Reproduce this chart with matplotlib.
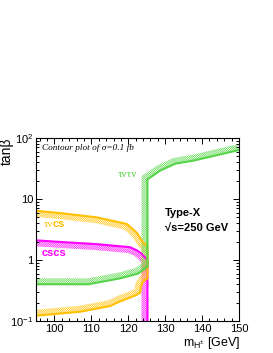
import matplotlib
matplotlib.use("Agg")
import matplotlib.pyplot as plt
import numpy as np
from matplotlib.ticker import FixedLocator, FixedFormatter, MultipleLocator, LogLocator, NullFormatter

plt.rcParams['font.family'] = ['Liberation Sans', 'DejaVu Sans']
plt.rcParams['mathtext.default'] = 'regular'
plt.rcParams['hatch.linewidth'] = 0.5

# contour lines (mH+ in GeV, tan beta)
tautau_x = [95, 109.2, 117.8, 122.7, 124.0, 125.2, 125.2, 128.6, 132.7, 137.6, 150]
tautau_y = [0.40, 0.40, 0.50, 0.60, 0.69, 0.78, 21.0, 29.1, 37.9, 42.5, 63.5]

taucs_up_x = [95, 102.4, 111.5, 119.6, 122.3, 124.1, 125.2]
taucs_up_y = [6.4, 5.8, 5.0, 3.9, 2.8, 1.9, 1.75]
taucs_lo_x = [125.2, 124.5, 123.6, 123.2, 121.8, 117.8, 115.1, 107, 95]
taucs_lo_y = [0.50, 0.47, 0.40, 0.29, 0.26, 0.21, 0.176, 0.142, 0.122]

cscs_x = [95, 102, 111.4, 120.5, 122.5, 123.5, 125.2, 125.2]
cscs_y = [2.1, 1.97, 1.82, 1.62, 1.42, 1.28, 1.0, 0.09]

GREEN = '#55d448'
YELLOW = '#ffc000'
MAGENTA = '#ff00ff'


def hatch_band(ax, xs, ys, color, side, width=6):
    # ROOT-style exclusion hatch: band of fixed pixel width on one side of the line
    pts = ax.transData.transform(np.column_stack([xs, ys]))
    d = np.diff(pts, axis=0)
    n = np.column_stack([-d[:, 1], d[:, 0]]) / np.hypot(d[:, 0], d[:, 1])[:, None]
    vn = np.zeros_like(pts)
    vn[0] = n[0]
    vn[-1] = n[-1]
    for i in range(1, len(pts) - 1):
        m = n[i - 1] + n[i]
        m = m / np.linalg.norm(m)
        vn[i] = m / np.dot(m, n[i])
    off = pts + side * width * vn
    poly = ax.transData.inverted().transform(np.vstack([pts, off[::-1]]))
    ax.fill(poly[:, 0], poly[:, 1], facecolor='none', edgecolor=color,
            hatch='/' * 16, linewidth=0)


fig = plt.figure(figsize=(2.73, 3.53), dpi=100)
ax = fig.add_axes([36 / 273, 32 / 353, 203 / 273, 183 / 353])
ax.set_yscale('log')
ax.set_xlim(95, 150)
ax.set_ylim(0.1, 100)
ax.set_autoscale_on(False)

taucs_x = taucs_up_x + taucs_lo_x
taucs_y = taucs_up_y + taucs_lo_y

hatch_band(ax, cscs_x, cscs_y, MAGENTA, -1)
hatch_band(ax, taucs_x, taucs_y, YELLOW, -1)
hatch_band(ax, tautau_x, tautau_y, GREEN, +1)

ax.plot(cscs_x, cscs_y, color=MAGENTA, lw=1.5)
ax.plot(taucs_x, taucs_y, color=YELLOW, lw=1.5)
ax.plot(tautau_x, tautau_y, color=GREEN, lw=1.5)

# axes styling
ax.xaxis.set_major_locator(MultipleLocator(10))
ax.xaxis.set_minor_locator(MultipleLocator(2))
ax.yaxis.set_major_locator(FixedLocator([0.1, 1, 10, 100]))
ax.yaxis.set_major_formatter(FixedFormatter(['$10^{-1}$', '1', '10', '$10^{2}$']))
ax.yaxis.set_minor_locator(LogLocator(subs=np.arange(2, 10)))
ax.yaxis.set_minor_formatter(NullFormatter())
ax.tick_params(which='both', direction='in', top=True, right=True, labelsize=8, width=0.7)
ax.tick_params(which='major', length=4.3, pad=2)
ax.tick_params(which='minor', length=2.2)
for s in ax.spines.values():
    s.set_linewidth(0.8)

fig.text(7 / 273, 1 - 138 / 353, 'tanβ', rotation=90, ha='center', va='top', fontsize=10)
fig.text(240 / 273, 1 - 343 / 353, 'm$_{H^{\\pm}}$ [GeV]', ha='right', va='center', fontsize=9)

# annotations
ax.text(0.028, 0.947, 'Contour plot of σ=0.1 fb', transform=ax.transAxes,
        family=['Liberation Serif'], style='italic', fontsize=6.7, va='center')
ax.text(0.404, 0.798, 'τντν', transform=ax.transAxes, family=['Liberation Serif'],
        color=GREEN, fontsize=8, va='center')
t1 = ax.text(0.036, 0.527, 'τν', transform=ax.transAxes, family=['Liberation Serif'],
             color=YELLOW, fontsize=8, va='center')
ax.annotate('cs', xy=(1, 0), xycoords=t1, va='bottom', ha='left',
            color=YELLOW, fontsize=8, fontweight='bold')
ax.text(0.028, 0.369, 'cscs', transform=ax.transAxes, color=MAGENTA,
        fontsize=8, fontweight='bold', va='center')
ax.text(0.635, 0.589, 'Type-X', transform=ax.transAxes, fontsize=8,
        fontweight='bold', va='center')
ax.text(0.635, 0.507, '√s=250 GeV', transform=ax.transAxes, fontsize=8,
        fontweight='bold', va='center')

fig.savefig('out.png', dpi=100)
